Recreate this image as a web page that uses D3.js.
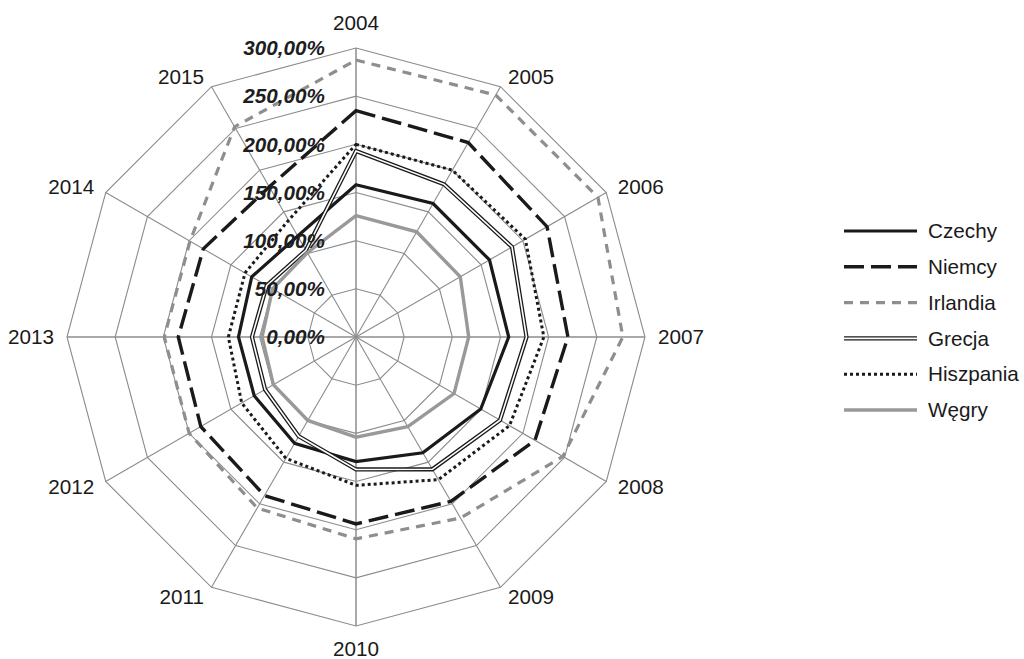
<!DOCTYPE html>
<html>
<head>
<meta charset="utf-8">
<script src="https://cdn.jsdelivr.net/npm/d3@7"></script>
<style>
  body { margin: 0; background: #fff; }
  text { font-family: "Liberation Sans", Arial, sans-serif; }
</style>
</head>
<body>
<div id="chart"></div>
<script>
// dane (w %)
const lata = ['2004', '2005', '2006', '2007', '2008', '2009', '2010', '2011', '2012', '2013', '2014', '2015'];
const czechy    = [158, 160, 160, 158.5, 149.5, 138.7, 129.4, 127.5, 122, 122, 125, 121];
const niemcy    = [235, 233, 229, 220, 214.5, 197, 194, 190, 186, 184.5, 183, 180];
const irlandia  = [287.5, 290, 290, 277, 248, 217, 209.5, 205, 200, 199, 199, 252];
const grecja    = [193, 183, 187, 177, 172.6, 158.6, 137.5, 119, 109, 108, 107, 104];
const hiszpania = [200, 200, 203, 195, 184, 171, 154, 145.5, 137, 132.5, 133, 140];
const wegry     = [126, 126, 125, 117, 117.5, 107.5, 104, 100, 99, 97.5, 100, 101];
const tickValues = [0, 50, 100, 150, 200, 250, 300];
const tickLabels = ['0,00%', '50,00%', '100,00%', '150,00%', '200,00%', '250,00%', '300,00%'];

const series = [
  { name: 'Czechy', values: czechy, type: 'solid' },
  { name: 'Niemcy', values: niemcy, type: 'dash' },
  { name: 'Irlandia', values: irlandia, type: 'greydash' },
  { name: 'Grecja', values: grecja, type: 'double' },
  { name: 'Hiszpania', values: hiszpania, type: 'dot' },
  { name: 'Węgry', values: wegry, type: 'grey' }
];

// style linii
const styles = {
  solid:    [{ stroke: '#1a1a1a', width: 3.2, dash: null }],
  dash:     [{ stroke: '#1a1a1a', width: 3.4, dash: '20,7' }],
  greydash: [{ stroke: '#8e8e8e', width: 3.2, dash: '9,7' }],
  double:   [{ stroke: '#1a1a1a', width: 4.2, dash: null }, { stroke: '#fff', width: 1.6, dash: null }],
  dot:      [{ stroke: '#1a1a1a', width: 3, dash: '3,3' }],
  grey:     [{ stroke: '#999', width: 3.4, dash: null }]
};

const W = 1024, H = 659;
const cx = 356, cy = 337, R = 289;
const fs = '20.7px';

const svg = d3.select('#chart').append('svg')
  .attr('width', W)
  .attr('height', H);

const g = svg.append('g').attr('transform', `translate(${cx},${cy})`);

const r = d3.scaleLinear().domain([0, 300]).range([0, R]);
const angle = d3.scaleLinear().domain([0, lata.length]).range([0, 2 * Math.PI]);

const pt = (i, v) => [Math.sin(angle(i)) * r(v), -Math.cos(angle(i)) * r(v)];

// siatka - wielokąty
const ring = d3.lineRadial()
  .angle((d, i) => angle(i))
  .radius(d => r(d))
  .curve(d3.curveLinearClosed);

tickValues.slice(1).forEach(t => {
  g.append('path')
    .attr('d', ring(lata.map(() => t)))
    .attr('fill', 'none')
    .attr('stroke', '#8c8c8c')
    .attr('stroke-width', 1.1);
});

// szprychy
lata.forEach((l, i) => {
  const [x, y] = pt(i, 300);
  g.append('line')
    .attr('x1', 0).attr('y1', 0)
    .attr('x2', x).attr('y2', y)
    .attr('stroke', '#8c8c8c')
    .attr('stroke-width', (i % 3 === 0) ? 1.5 : 1.1);
});

// serie
const line = d3.lineRadial()
  .angle((d, i) => angle(i))
  .radius(d => r(d))
  .curve(d3.curveLinearClosed);

series.forEach(s => {
  styles[s.type].forEach(st => {
    g.append('path')
      .attr('d', line(s.values))
      .attr('fill', 'none')
      .attr('stroke', st.stroke)
      .attr('stroke-width', st.width)
      .attr('stroke-dasharray', st.dash)
      .attr('stroke-linejoin', 'miter');
  });
});

// etykiety lat
lata.forEach((l, i) => {
  const a = angle(i);
  const s = Math.sin(a), c = Math.cos(a);
  const [x, y] = pt(i, 300);
  let tx, ty, anchor;
  if (Math.abs(s) < 0.01) {
    anchor = 'middle';
    tx = x;
    ty = c > 0 ? y - 25 : y + 23;
  } else {
    anchor = s > 0 ? 'start' : 'end';
    tx = x + Math.sign(s) * (2 + 11 * Math.abs(s));
    ty = y - c * 11;
  }
  svg.append('text')
    .attr('x', cx + tx)
    .attr('y', cy + ty)
    .attr('dy', '0.35em')
    .attr('text-anchor', anchor)
    .style('font-size', fs)
    .style('fill', '#1a1a1a')
    .text(l);
});

// etykiety osi wartości
tickValues.forEach((t, i) => {
  svg.append('text')
    .attr('x', 325)
    .attr('y', cy - r(t))
    .attr('dy', '0.35em')
    .attr('text-anchor', 'end')
    .style('font-size', fs)
    .style('font-weight', '700')
    .style('font-style', 'italic')
    .style('fill', '#1e1e1e')
    .text(tickLabels[i]);
});

// legenda
const legend = svg.append('g').attr('transform', 'translate(844,231)');
series.forEach((s, i) => {
  const row = legend.append('g').attr('transform', `translate(0,${i * 35.8})`);
  styles[s.type].forEach(st => {
    row.append('line')
      .attr('x1', 0).attr('x2', 73)
      .attr('y1', 0).attr('y2', 0)
      .attr('stroke', st.stroke)
      .attr('stroke-width', st.width)
      .attr('stroke-dasharray', st.dash);
  });
  row.append('text')
    .attr('x', 84)
    .attr('y', 0)
    .attr('dy', '0.35em')
    .style('font-size', fs)
    .style('fill', '#1a1a1a')
    .text(s.name);
});
</script>
</body>
</html>
